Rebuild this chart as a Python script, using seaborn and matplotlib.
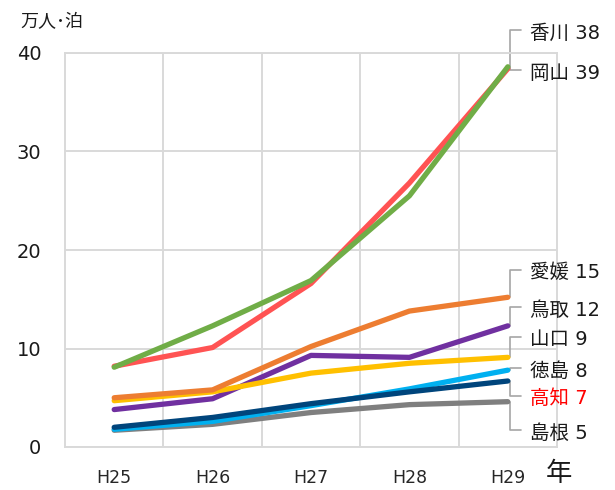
import matplotlib
matplotlib.use("Agg")
import matplotlib.pyplot as plt
import matplotlib.transforms as mtransforms
import seaborn as sns
import pandas as pd

# Guest nights by prefecture (10,000 person-nights)
years = ["H25", "H26", "H27", "H28", "H29"]
shimane = [1.7, 2.3, 3.5, 4.3, 4.6]
tokushima = [1.8, 2.6, 4.2, 5.9, 7.8]
kochi = [2.0, 3.0, 4.4, 5.6, 6.7]
tottori = [3.8, 4.9, 9.3, 9.1, 12.3]
yamaguchi = [4.7, 5.6, 7.5, 8.5, 9.1]
ehime = [5.0, 5.8, 10.2, 13.8, 15.2]
kagawa = [8.2, 10.1, 16.6, 26.8, 38.4]
okayama = [8.1, 12.3, 16.9, 25.5, 38.6]

series_names = ["島根", "徳島", "高知", "鳥取", "山口", "愛媛", "香川", "岡山"]
series_values = [shimane, tokushima, kochi, tottori, yamaguchi, ehime, kagawa, okayama]
series_colors = ["#7f7f7f", "#00b0f0", "#00457c", "#7030a0", "#ffc000",
                 "#ed7d31", "#ff5353", "#70ad47"]

# Right-hand label placement (pixel row of each leader's horizontal stub)
label_rows = {"香川": 30, "岡山": 70, "愛媛": 270, "鳥取": 307,
              "山口": 337, "徳島": 368, "高知": 396, "島根": 430}
label_colors = {"高知": "#ff0000"}

sns.set_theme(style="white")
plt.rcParams["font.family"] = ["DejaVu Sans", "Noto Sans CJK JP"]

rows = []
for name, vals in zip(series_names, series_values):
    for i, (yr, v) in enumerate(zip(years, vals)):
        rows.append({"pref": name, "idx": i, "year": yr, "value": v})
df = pd.DataFrame(rows)

W, H = 615, 490
fig = plt.figure(figsize=(W / 100, H / 100), dpi=100)
ax_left, ax_right, ax_top, ax_bottom = 65, 557, 53, 447
ax = fig.add_axes([ax_left / W, 1 - ax_bottom / H,
                   (ax_right - ax_left) / W, (ax_bottom - ax_top) / H])

sns.lineplot(data=df, x="idx", y="value", hue="pref", hue_order=series_names,
             palette=dict(zip(series_names, series_colors)), linewidth=3.8,
             legend=False, ax=ax, solid_capstyle="round", solid_joinstyle="round")

ax.set_xlim(-0.5, len(years) - 0.5)
ax.set_ylim(0, 40)
ax.set_xticks(range(len(years)))
ax.set_xticklabels(years, fontsize=12.5, color="#262626")
ax.set_xticks([i - 0.5 for i in range(1, len(years))], minor=True)
ax.set_yticks([0, 10, 20, 30, 40])
ax.set_yticklabels(["0", "10", "20", "30", "40"], fontsize=14, color="#1a1a1a")
ax.tick_params(axis="both", which="both", length=0)
ax.tick_params(axis="x", pad=16)
ax.tick_params(axis="y", pad=17)
ax.grid(axis="y", which="major", color="#d9d9d9", linewidth=1.4)
ax.grid(axis="x", which="minor", color="#d9d9d9", linewidth=1.4)
ax.set_axisbelow(True)
for sp in ax.spines.values():
    sp.set_visible(True)
    sp.set_color("#d9d9d9")
    sp.set_linewidth(1.4)
ax.set_xlabel("")
ax.set_ylabel("")

# Leader lines and end labels
px = 1.0 / (ax_right - ax_left)  # one pixel in axes-fraction units
trans = mtransforms.blended_transform_factory(ax.transAxes, ax.transData)
x_end = (len(years) - 1 + 0.5) / len(years)
x_vert = x_end + 2 * px
x_stub = x_end + 13 * px
x_text = x_end + 22 * px
ppu = (ax_bottom - ax_top) / 40.0
for name, vals in zip(series_names, series_values):
    v = vals[-1]
    y_lab = (ax_bottom - label_rows[name]) / ppu
    ax.plot([x_vert, x_vert, x_stub], [v, y_lab, y_lab], transform=trans,
            color="#a6a6a6", linewidth=1.2, clip_on=False, zorder=1)
    ax.text(x_text, y_lab - 3 / ppu, f"{name} {v:.0f}", transform=trans,
            fontsize=14, va="center", ha="left",
            color=label_colors.get(name, "#1a1a1a"), clip_on=False)

fig.text(20 / W, 1 - 22 / H, "万人･泊", fontsize=13, va="center", ha="left",
         color="#1a1a1a", family=["Noto Sans CJK JP", "DejaVu Sans"])
fig.text(546 / W, 1 - 473 / H, "年", fontsize=19, va="center", ha="left",
         color="#1a1a1a", family=["Noto Sans CJK JP"])

fig.savefig("out.png", dpi=100)
